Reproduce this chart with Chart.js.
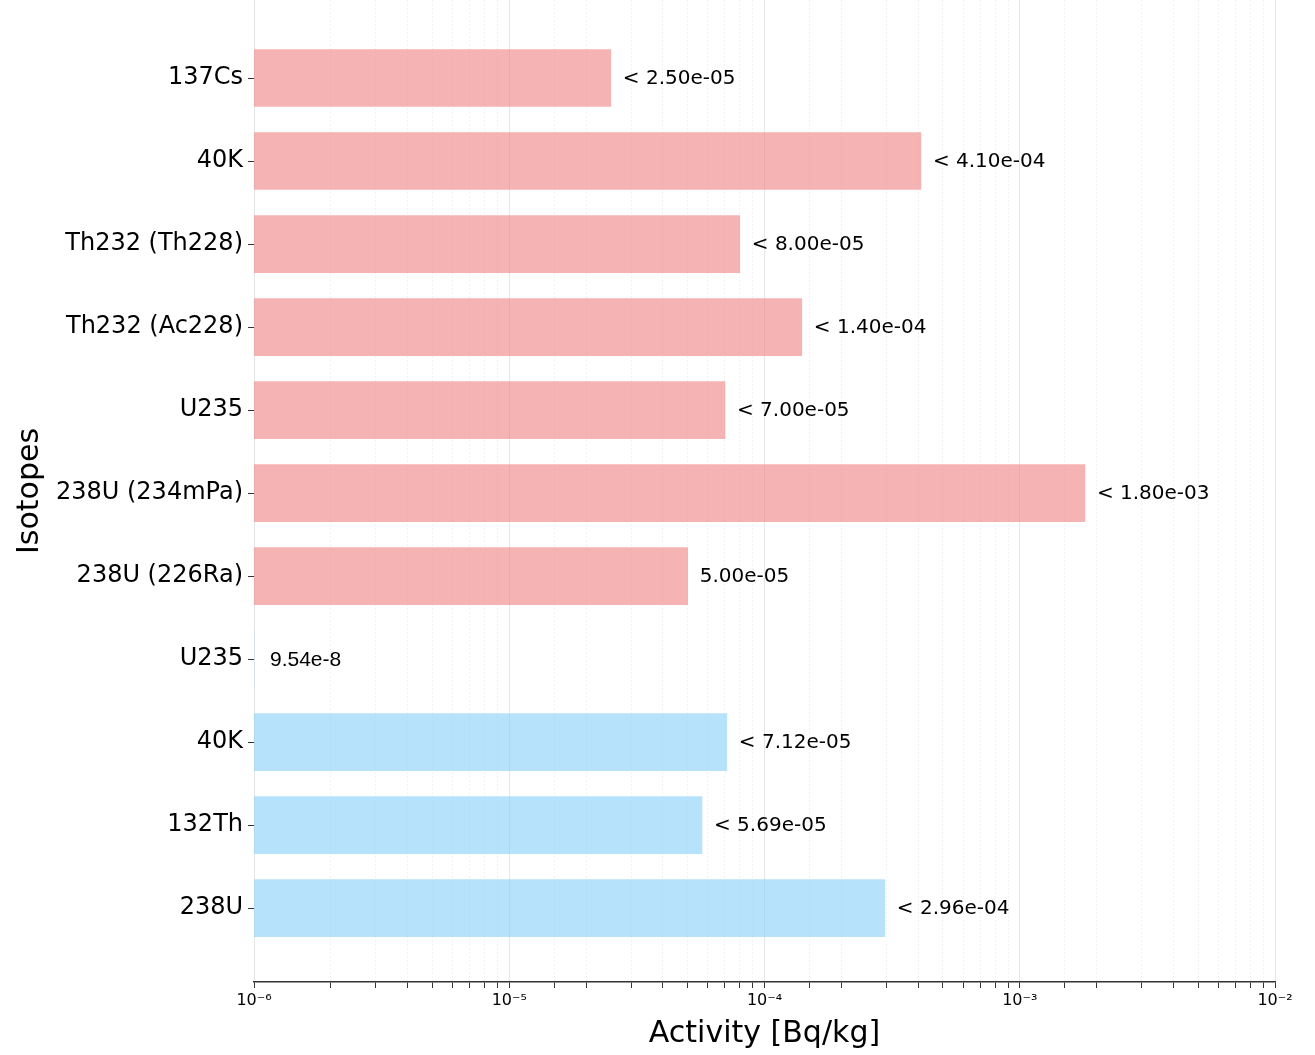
<!DOCTYPE html>
<html>
<head>
<meta charset="utf-8">
<script src="https://cdn.jsdelivr.net/npm/chart.js@4.4.0/dist/chart.umd.min.js"></script>
<style>
  body { margin: 0; background: #fff; }
  #wrap { width: 1315px; height: 1055px; }
</style>
</head>
<body>
<div id="wrap"><canvas id="myChart" width="1315" height="1055"></canvas></div>
<script>
// Isotopes, top to bottom
const isotopes = ['137Cs', '40K', 'Th232 (Th228)', 'Th232 (Ac228)', 'U235', '238U (234mPa)',
                  '238U (226Ra)', 'U235', '40K', '132Th', '238U'];
const activity = [2.5e-5, 4.1e-4, 8.0e-5, 1.4e-4, 7.0e-5, 1.8e-3, 5.0e-5, 9.54e-8, 7.12e-5, 5.69e-5, 2.96e-4];
const valueText = ['< 2.50e-05', '< 4.10e-04', '< 8.00e-05', '< 1.40e-04', '< 7.00e-05', '< 1.80e-03',
                   '5.00e-05', '9.54e-8', '< 7.12e-05', '< 5.69e-05', '< 2.96e-04'];
const group = ['a', 'a', 'a', 'a', 'a', 'a', 'a', 'b', 'b', 'b', 'b'];
const xTicks = [1e-6, 1e-5, 1e-4, 1e-3, 1e-2];
const xTickText = ['10\u207B\u2076', '10\u207B\u2075', '10\u207B\u2074', '10\u207B\u00B3', '10\u207B\u00B2'];

const pink = 'rgba(240, 128, 128, 0.6)';
const blue = 'rgba(135, 206, 250, 0.6)';

const isMajor = v => Math.abs(Math.log10(v) - Math.round(Math.log10(v))) < 1e-9;

// value labels next to each bar
const valueLabels = {
  id: 'valueLabels',
  afterDatasetsDraw(chart) {
    const { ctx, chartArea, scales } = chart;
    ctx.save();
    ctx.fillStyle = '#000';
    ctx.textBaseline = 'middle';
    ctx.textAlign = 'left';
    activity.forEach((v, i) => {
      // the tiny value sits left of the axis, its label was written in a plain sans
      ctx.font = v < scales.x.min ? '21px "Liberation Sans"' : '20px "DejaVu Sans"';
      const x = Math.max(scales.x.getPixelForValue(v), chartArea.left + 4) + 12;
      const y = scales.y.getPixelForValue(i) + 1;
      ctx.fillText(valueText[i], x, y);
    });
    ctx.restore();
  }
};

const ctx = document.getElementById('myChart').getContext('2d');
const myChart = new Chart(ctx, {
  type: 'bar',
  data: {
    datasets: [{
      data: activity.map((v, i) => ({ x: v, y: i })),
      backgroundColor: group.map(g => g === 'a' ? pink : blue),
      borderWidth: 0,
      barThickness: 57,
      clip: 0
    }]
  },
  options: {
    indexAxis: 'y',
    responsive: false,
    animation: false,
    layout: { padding: { top: 0, right: 40, left: 0, bottom: 0 } },
    plugins: {
      legend: { display: false },
      tooltip: { enabled: false }
    },
    scales: {
      x: {
        type: 'logarithmic',
        min: 1e-6,
        max: 1e-2,
        afterFit: s => { s.height = 73; },
        ticks: {
          autoSkip: false,
          maxRotation: 0,
          padding: 3,
          color: '#000',
          font: { family: 'DejaVu Sans', size: 16 },
          callback: v => {
            const k = xTicks.findIndex(t => Math.abs(t - v) / t < 1e-6);
            return k >= 0 ? xTickText[k] : '';
          }
        },
        grid: {
          color: c => (c.tick && isMajor(c.tick.value)) ? '#e6e6e6' : '#f2f2f2',
          lineWidth: 1,
          tickColor: '#333',
          tickLength: 6
        },
        border: {
          display: true,
          color: '#333',
          width: 1.5,
          dash: c => (c.tick && !isMajor(c.tick.value)) ? [2, 2] : []
        },
        title: {
          display: true,
          text: 'Activity [Bq/kg]',
          color: '#000',
          font: { family: 'DejaVu Sans', size: 30 },
          padding: { top: 0, bottom: 3 }
        }
      },
      y: {
        type: 'linear',
        reverse: true,
        offset: false,
        min: -0.94,
        max: 10.89,
        afterFit: s => { s.width = 254; s.paddingTop = 0; s.paddingBottom = 0; },
        ticks: {
          stepSize: 1,
          includeBounds: false,
          autoSkip: false,
          padding: 5,
          color: '#000',
          font: { family: 'DejaVu Sans', size: 24 },
          callback: v => Number.isInteger(v) ? (isotopes[v] || '') : ''
        },
        grid: {
          offset: false,
          drawOnChartArea: false,
          tickColor: '#333',
          tickLength: 6
        },
        border: { display: false },
        title: {
          display: true,
          text: 'Isotopes',
          color: '#000',
          font: { family: 'DejaVu Sans', size: 30 },
          padding: { top: 12, bottom: 0 }
        }
      }
    }
  },
  plugins: [valueLabels]
});
</script>
</body>
</html>
